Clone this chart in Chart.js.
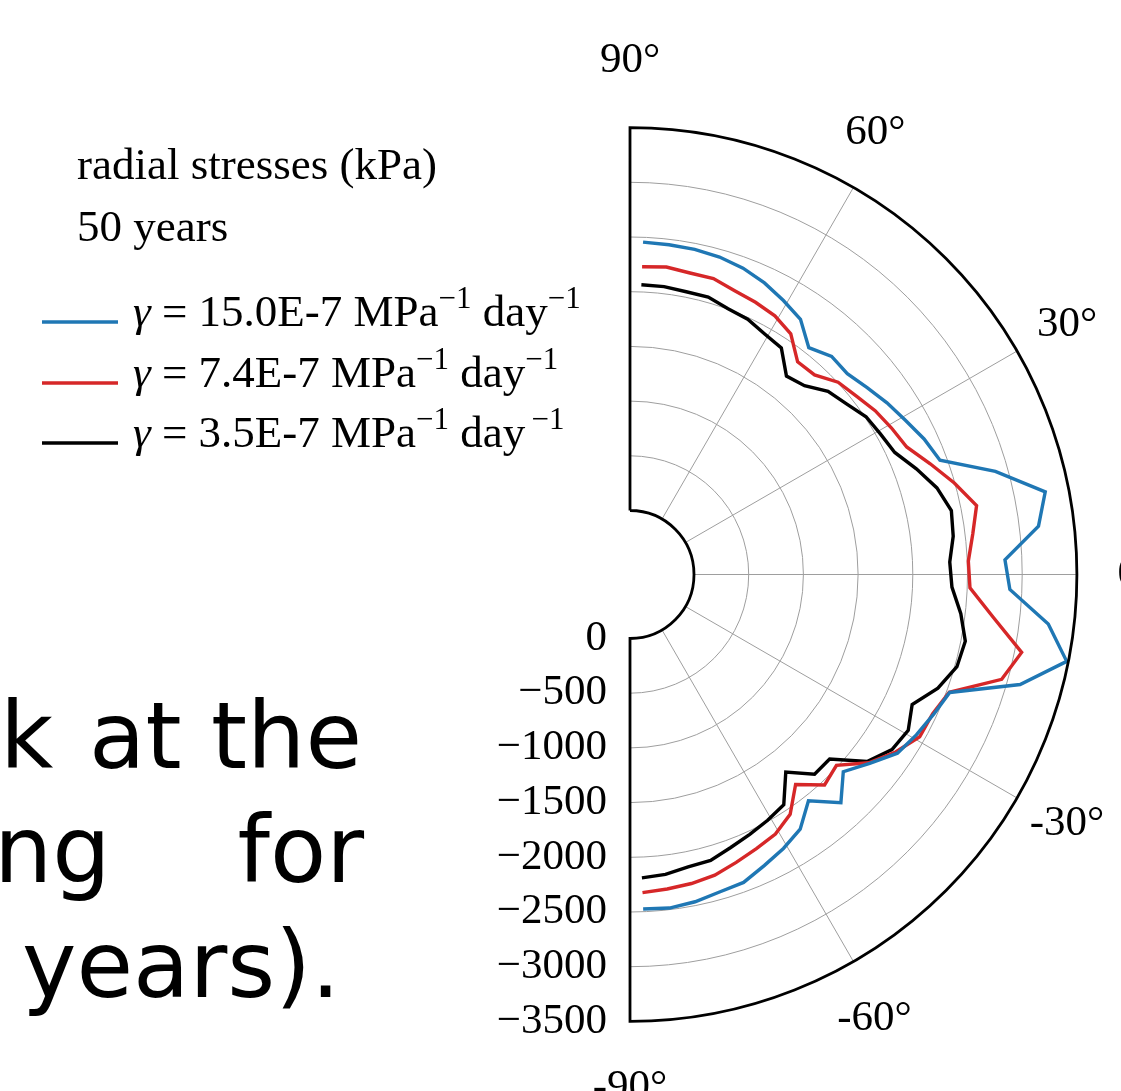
<!DOCTYPE html>
<html>
<head>
<meta charset="utf-8">
<title>radial stresses (kPa) - 50 years</title>
<script src="https://cdn.jsdelivr.net/npm/chart.js@4.4.1/dist/chart.umd.min.js"></script>
<style>
  html, body { margin: 0; padding: 0; background: #ffffff; overflow: hidden; }
  #wrap { position: relative; width: 1121px; height: 1091px; }
</style>
</head>
<body>
<div id="wrap"><canvas id="polar-chart" width="1121" height="1091"></canvas></div>
<script>
// angle of each element centre (degrees)
const angles = [87.75, 83.25, 78.75, 74.25, 69.75, 65.25, 60.75, 56.25, 51.75, 47.25,
    42.75, 38.25, 33.75, 29.25, 24.75, 20.25, 15.75, 11.25, 6.75, 2.25,
    -2.25, -6.75, -11.25, -15.75, -20.25, -24.75, -29.25, -33.75, -38.25, -42.75,
    -47.25, -51.75, -56.25, -60.75, -65.25, -69.75, -74.25, -78.75, -83.25, -87.75];

// radial stresses (kPa) after 50 years
const stress_15 = [-2455, -2450, -2445, -2430, -2400, -2350, -2285, -2220, -2055, -2130,
    -2120, -2175, -2240, -2300, -2375, -2435, -2885, -3285, -3175, -2845,
    -2890, -3265, -3485, -3120, -2530, -2470, -2415, -2355, -2205, -2070,
    -2255, -2050, -2215, -2285, -2345, -2415, -2430, -2465, -2485, -2475];
const stress_74 = [-2230, -2245, -2225, -2225, -2180, -2155, -2125, -2060, -1890, -1900,
    -2005, -2050, -2110, -2155, -2200, -2340, -2495, -2645, -2570, -2510,
    -2525, -2760, -3065, -2945, -2525, -2460, -2450, -2335, -2195, -1985,
    -2035, -1860, -2050, -2135, -2175, -2220, -2270, -2295, -2310, -2325];
const stress_35 = [-2065, -2065, -2050, -2050, -2005, -1985, -1935, -1905, -1725, -1765,
    -1880, -1935, -2010, -2040, -2080, -2205, -2330, -2410, -2390, -2340,
    -2360, -2460, -2540, -2520, -2415, -2255, -2330, -2295, -2175, -1900,
    -1900, -1715, -1945, -1990, -2030, -2075, -2130, -2140, -2175, -2190];

const gammaLabels = ['15.0E-7', '7.4E-7', '3.5E-7'];
const seriesColors = ['#1f77b4', '#d62728', '#000000'];

const radialTicks = [0, -500, -1000, -1500, -2000, -2500, -3000, -3500];
const angleTicks = [90, 60, 30, 0, -30, -60, -90];

const titleLines = ['radial stresses (kPa)', '50 years'];
const slideWords = ['k', 'at', 'the', 'ng', 'for', 'years).'];

// geometry of the half disc (pixels)
const CENTER_X = 630;
const CENTER_Y = 574.5;
const PX_PER_KPA = 0.1094;
const HOLE = 64 / PX_PER_KPA;    // the 0 kPa ring sits on the hole edge

const W = 1121, H = 1091;

function toXY(angle, value) {
    const rho = HOLE - value;
    const t = angle * Math.PI / 180;
    return { x: rho * Math.cos(t), y: rho * Math.sin(t) };
}

const serif = '"Liberation Serif", "DejaVu Serif", serif';

function degLabel(a) {
    return a + '\u00b0';
}

function tickLabel(v) {
    return v < 0 ? '\u2212' + Math.abs(v) : String(v);
}

// draws "γ = 15.0E-7 MPa^-1 day^-1"
function drawGammaLabel(ctx, text, x, y, extraGap) {
    const size = 45;
    const sup = 31;
    ctx.textAlign = 'left';
    ctx.textBaseline = 'alphabetic';
    const parts = [
        { t: '\u03b3', f: 'italic ' + size + 'px ' + serif },
        { t: ' = ', f: size + 'px ' + serif },
        { t: text + ' MPa', f: size + 'px ' + serif },
        { t: '\u22121', f: sup + 'px ' + serif, up: 18 },
        { t: ' day', f: size + 'px ' + serif },
        { t: (extraGap ? '\u2009' : '') + '\u22121', f: sup + 'px ' + serif, up: 18 }
    ];
    let cx = x;
    parts.forEach(p => {
        ctx.font = p.f;
        ctx.fillText(p.t, cx, y - (p.up || 0));
        cx += ctx.measureText(p.t).width;
    });
}

// justified slide text behind the figure, cut at the left edge
const slideText = {
    id: 'slideText',
    beforeDraw(chart) {
        const ctx = chart.ctx;
        ctx.save();
        ctx.fillStyle = '#000';
        ctx.font = '92px "DejaVu Sans", sans-serif';
        ctx.textBaseline = 'alphabetic';
        ctx.textAlign = 'left';
        ctx.fillText(slideWords[0], 0, 768);
        ctx.fillText(slideWords[1], 89, 768);
        ctx.fillText(slideWords[3], -6, 882);
        ctx.fillText(slideWords[5], 22, 997);
        ctx.textAlign = 'right';
        ctx.fillText(slideWords[2], 362, 768);
        ctx.fillText(slideWords[4], 364, 882);
        ctx.restore();
    }
};

// small nudges so the angle labels sit where the reference puts them
const angleLabelShift = { '90': [0, -7], '60': [-8, -3], '30': [-2, 4], '0': [0, 0],
    '-30': [-2, -4], '-60': [-9, 5], '-90': [0, 6] };

const polarFrame = {
    id: 'polarFrame',
    beforeDatasetsDraw(chart) {
        const { ctx, scales: { x, y } } = chart;
        const cx = x.getPixelForValue(0);
        const cy = y.getPixelForValue(0);
        const rad = v => x.getPixelForValue(HOLE - v) - cx;
        const r0 = rad(radialTicks[0]);
        const r1 = rad(radialTicks[radialTicks.length - 1]);

        ctx.save();
        ctx.strokeStyle = '#9e9e9e';
        ctx.lineWidth = 1;
        radialTicks.slice(1, -1).forEach(v => {
            ctx.beginPath();
            ctx.arc(cx, cy, rad(v), -Math.PI / 2, Math.PI / 2);
            ctx.stroke();
        });
        angleTicks.slice(1, -1).forEach(a => {
            const t = a * Math.PI / 180;
            ctx.beginPath();
            ctx.moveTo(cx + r0 * Math.cos(t), cy - r0 * Math.sin(t));
            ctx.lineTo(cx + r1 * Math.cos(t), cy - r1 * Math.sin(t));
            ctx.stroke();
        });
        ctx.restore();
    },
    afterDatasetsDraw(chart) {
        const { ctx, scales: { x, y } } = chart;
        const cx = x.getPixelForValue(0);
        const cy = y.getPixelForValue(0);
        const rad = v => x.getPixelForValue(HOLE - v) - cx;
        const r0 = rad(radialTicks[0]);
        const r1 = rad(radialTicks[radialTicks.length - 1]);

        ctx.save();
        // outline of the half ring
        ctx.strokeStyle = '#000';
        ctx.lineWidth = 2.8;
        ctx.beginPath();
        ctx.moveTo(cx, cy - r0);
        ctx.lineTo(cx, cy - r1);
        ctx.arc(cx, cy, r1, -Math.PI / 2, Math.PI / 2);
        ctx.lineTo(cx, cy + r0);
        ctx.arc(cx, cy, r0, Math.PI / 2, -Math.PI / 2, true);
        ctx.stroke();

        // radial tick labels
        ctx.fillStyle = '#000';
        ctx.font = '43px ' + serif;
        ctx.textAlign = 'right';
        ctx.textBaseline = 'middle';
        radialTicks.forEach(v => {
            ctx.fillText(tickLabel(v), cx - 23, cy + rad(v));
        });

        // angle labels
        ctx.textAlign = 'center';
        angleTicks.forEach(a => {
            const t = a * Math.PI / 180;
            const rl = r1 + 60;
            const s = angleLabelShift[String(a)];
            ctx.fillText(degLabel(a), cx + rl * Math.cos(t) + s[0], cy - rl * Math.sin(t) + s[1]);
        });
        ctx.restore();
    },
    afterDraw(chart) {
        const ctx = chart.ctx;
        ctx.save();
        ctx.fillStyle = '#000';
        ctx.font = '45px ' + serif;
        ctx.textAlign = 'left';
        ctx.textBaseline = 'alphabetic';
        ctx.fillText(titleLines[0], 77, 179);
        ctx.fillText(titleLines[1], 77, 241);

        const rows = [322, 383, 443];
        chart.data.datasets.forEach((ds, i) => {
            ctx.strokeStyle = ds.borderColor;
            ctx.lineWidth = 3.5;
            ctx.beginPath();
            ctx.moveTo(42, rows[i]);
            ctx.lineTo(118, rows[i]);
            ctx.stroke();
            ctx.fillStyle = '#000';
            drawGammaLabel(ctx, gammaLabels[i], 133, rows[i] + 4, i === 2);
        });
        ctx.restore();
    }
};

function loadGraph() {
    const series = [stress_15, stress_74, stress_35];
    const datasets = series.map((vals, i) => ({
        label: '\u03b3 = ' + gammaLabels[i] + ' MPa\u207b\u00b9 day\u207b\u00b9',
        data: angles.map((a, j) => toXY(a, vals[j])),
        borderColor: seriesColors[i],
        backgroundColor: seriesColors[i],
        borderWidth: 3.4,
        showLine: true,
        pointRadius: 0,
        tension: 0,
        fill: false
    }));

    const config = {
        type: 'scatter',
        data: { datasets: datasets },
        options: {
            responsive: false,
            animation: false,
            layout: { padding: 0 },
            scales: {
                x: {
                    type: 'linear',
                    display: false,
                    min: -CENTER_X / PX_PER_KPA,
                    max: (W - CENTER_X) / PX_PER_KPA
                },
                y: {
                    type: 'linear',
                    display: false,
                    min: -(H - CENTER_Y) / PX_PER_KPA,
                    max: CENTER_Y / PX_PER_KPA
                }
            },
            plugins: {
                legend: { display: false },
                title: { display: false },
                tooltip: { enabled: false }
            }
        },
        plugins: [slideText, polarFrame]
    };

    const ctx = document.getElementById('polar-chart').getContext('2d');
    new Chart(ctx, config);
}

document.addEventListener('DOMContentLoaded', loadGraph);
</script>
</body>
</html>
